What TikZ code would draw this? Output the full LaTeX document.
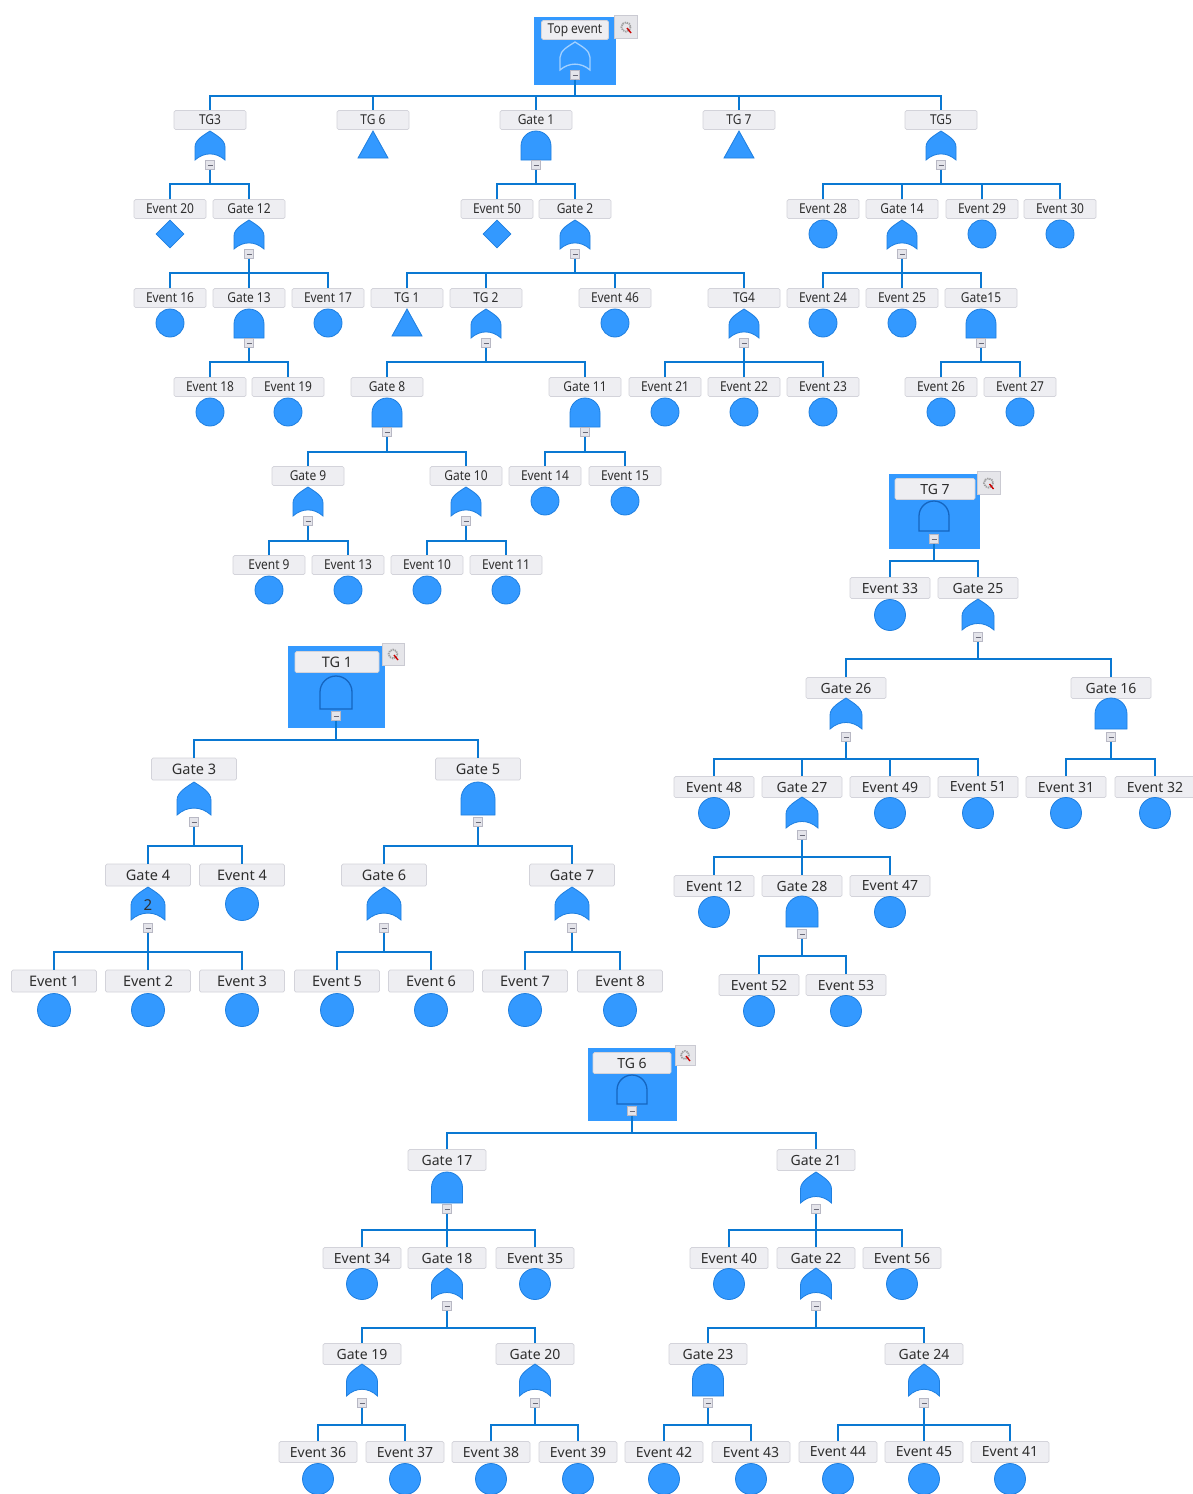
\documentclass[tikz,border=0pt]{standalone}
\usepackage{fontspec}
\setmainfont{Noto Sans}
\newfontfamily\tfont[FakeStretch=0.88]{Noto Sans}
\usetikzlibrary{shapes.geometric}
\definecolor{hl}{HTML}{3399FF}
\definecolor{sho}{HTML}{1F7FDF}
\definecolor{inb}{HTML}{1565C0}
\definecolor{ln}{HTML}{0A78D2}
\definecolor{lf}{HTML}{EEEEF2}
\definecolor{lb}{HTML}{D3D3DA}
\definecolor{mf}{HTML}{E4E4EA}
\definecolor{mb}{HTML}{B8B8C4}
\definecolor{md}{HTML}{6A6A78}
\definecolor{tx}{HTML}{2E2E2E}
\definecolor{icf}{HTML}{E6E6EA}
\definecolor{icb}{HTML}{CACAD2}
\tikzset{
 conn/.style={draw=ln, line width=2.8pt},
 lab/.style={draw=lb, fill=lf, rounded corners=1.5pt, line width=0.7pt, inner sep=0pt, text=tx},
 labT/.style={lab, minimum width=72pt, minimum height=19pt, font=\tfont\fontsize{13.6}{15}\selectfont},
 labA/.style={lab, minimum width=85pt, minimum height=22pt, font=\fontsize{14.5}{16}\selectfont},
 labB/.style={lab, minimum width=80pt, minimum height=21pt, font=\fontsize{14}{16}\selectfont},
 labC/.style={lab, minimum width=78pt, minimum height=21pt, font=\fontsize{14}{16}\selectfont},
 sh/.style={fill=hl, draw=sho, line width=0.8pt},
 shin/.style={fill=hl, draw=inb, line width=1.3pt},
 shtop/.style={fill=hl, draw=white!55!hl, line width=1.3pt},
 evt/.style={circle, sh, inner sep=0pt},
 dia/.style={diamond, sh, inner sep=0pt, minimum width=28pt, minimum height=28pt},
 mn/.style={draw=mb, fill=mf, minimum size=9pt, inner sep=0pt, line width=0.6pt,
   path picture={\draw[md, line width=0.9pt] ([xshift=-2.5pt]path picture bounding box.center) -- ([xshift=2.5pt]path picture bounding box.center);}},
 hlbox/.style={fill=hl, draw=none, inner sep=0pt},
 icon/.style={draw=icb, fill=icf, inner sep=0pt, line width=0.6pt},
}
% AND gate: [style] x ytop w h
\newcommand\AG[5][sh]{\path[#1] ({#2-#4/2},{#3+#5}) -- ({#2-#4/2},{#3+#4/2}) .. controls ({#2-#4/2},{#3+0.224*#4}) and ({#2-0.276*#4},{#3}) .. ({#2},{#3}) .. controls ({#2+0.276*#4},{#3}) and ({#2+#4/2},{#3+0.224*#4}) .. ({#2+#4/2},{#3+#4/2}) -- ({#2+#4/2},{#3+#5}) -- cycle;}
% OR gate
\newcommand\OG[5][sh]{\path[#1] ({#2-#4/2},{#3+#5}) -- ({#2-#4/2},{#3+0.55*#5}) .. controls ({#2-#4/2},{#3+0.3*#5}) and ({#2-0.2*#4},{#3+0.14*#5}) .. ({#2},{#3}) .. controls ({#2+0.2*#4},{#3+0.14*#5}) and ({#2+#4/2},{#3+0.3*#5}) .. ({#2+#4/2},{#3+0.55*#5}) -- ({#2+#4/2},{#3+#5}) .. controls ({#2+0.2*#4},{#3+0.72*#5}) and ({#2-0.2*#4},{#3+0.72*#5}) .. ({#2-#4/2},{#3+#5}) -- cycle;}
% transfer triangle: x ytop w h
\newcommand\TR[4]{\path[sh] (#1,#2) -- ({#1+#3/2},{#2+#4}) -- ({#1-#3/2},{#2+#4}) -- cycle;}
% bus: minus node, x, bus y, children
\newcommand\BUS[4]{\coordinate (#1B) at (#2,#3); \foreach \ch in {#4} {\draw[conn] (#1.south) -- (#1B) -| (\ch.north);}}
% icon: name x y size
\newcommand\ICON[4]{\node[icon, minimum size=#4pt] (#1) at (#2,#3) {};
 \draw[gray!75, line width=1.8pt, dash pattern=on 1.3pt off 0.9pt] (#1.center) circle [radius={0.2*#4}];
 \draw[red!80!black, line width=1.4pt] ([shift={(1pt,-1pt)}]#1.center) -- ([shift={(5pt,-6pt)}]#1.center);}
\begin{document}
\begin{tikzpicture}[x=1pt,y=-1pt]
\fill[white] (0,0) rectangle (1192,1494);
\useasboundingbox (0,0) rectangle (1192,1494);

% ================= TOP TREE =================
\node[hlbox, minimum width=82pt, minimum height=68pt] (topbox) at (575,51) {};
\node[labT, minimum width=67pt] (top) at (575,30) {Top event};
\ICON{topic}{626}{27}{23}
\OG[shtop]{575}{42}{30}{28}
\node[mn] (topm) at (575,75) {};

% level 1
\node[labT] (tg3) at (210,120) {TG3};
\OG{210}{131}{30}{29} \node[mn] (tg3m) at (210,165) {};
\node[labT] (tg6) at (373,120) {TG 6};
\TR{373}{131}{30}{27}
\node[labT] (g1) at (536,120) {Gate 1};
\AG{536}{131}{30}{29} \node[mn] (g1m) at (536,165) {};
\node[labT] (tg7) at (739,120) {TG 7};
\TR{739}{131}{30}{27}
\node[labT] (tg5) at (941,120) {TG5};
\OG{941}{131}{30}{29} \node[mn] (tg5m) at (941,165) {};

% level 2
\node[labT] (e20) at (170,209) {Event 20}; \node[dia] (e20s) at (170,234) {};
\node[labT] (g12) at (249,209) {Gate 12}; \OG{249}{220}{30}{29} \node[mn] (g12m) at (249,254) {};
\node[labT] (e50) at (497,209) {Event 50}; \node[dia] (e50s) at (497,234) {};
\node[labT] (g2) at (575,209) {Gate 2}; \OG{575}{220}{30}{29} \node[mn] (g2m) at (575,254) {};
\node[labT] (e28) at (823,209) {Event 28}; \node[evt, minimum size=28pt] (e28s) at (823,234) {};
\node[labT] (g14) at (902,209) {Gate 14}; \OG{902}{220}{30}{29} \node[mn] (g14m) at (902,254) {};
\node[labT] (e29) at (982,209) {Event 29}; \node[evt, minimum size=28pt] (e29s) at (982,234) {};
\node[labT] (e30) at (1060,209) {Event 30}; \node[evt, minimum size=28pt] (e30s) at (1060,234) {};

% level 3
\node[labT] (e16) at (170,298) {Event 16}; \node[evt, minimum size=28pt] (e16s) at (170,323) {};
\node[labT] (g13) at (249,298) {Gate 13}; \AG{249}{309}{30}{29} \node[mn] (g13m) at (249,343) {};
\node[labT] (e17) at (328,298) {Event 17}; \node[evt, minimum size=28pt] (e17s) at (328,323) {};
\node[labT] (tg1) at (407,298) {TG 1}; \TR{407}{309}{30}{27}
\node[labT] (tg2) at (486,298) {TG 2}; \OG{486}{309}{30}{29} \node[mn] (tg2m) at (486,343) {};
\node[labT] (e46) at (615,298) {Event 46}; \node[evt, minimum size=28pt] (e46s) at (615,323) {};
\node[labT] (tg4) at (744,298) {TG4}; \OG{744}{309}{30}{29} \node[mn] (tg4m) at (744,343) {};
\node[labT] (e24) at (823,298) {Event 24}; \node[evt, minimum size=28pt] (e24s) at (823,323) {};
\node[labT] (e25) at (902,298) {Event 25}; \node[evt, minimum size=28pt] (e25s) at (902,323) {};
\node[labT] (g15) at (981,298) {Gate15}; \AG{981}{309}{30}{29} \node[mn] (g15m) at (981,343) {};

% level 4
\node[labT] (e18) at (210,387) {Event 18}; \node[evt, minimum size=28pt] (e18s) at (210,412) {};
\node[labT] (e19) at (288,387) {Event 19}; \node[evt, minimum size=28pt] (e19s) at (288,412) {};
\node[labT] (g8) at (387,387) {Gate 8}; \AG{387}{398}{30}{29} \node[mn] (g8m) at (387,432) {};
\node[labT] (g11) at (585,387) {Gate 11}; \AG{585}{398}{30}{29} \node[mn] (g11m) at (585,432) {};
\node[labT] (e21) at (665,387) {Event 21}; \node[evt, minimum size=28pt] (e21s) at (665,412) {};
\node[labT] (e22) at (744,387) {Event 22}; \node[evt, minimum size=28pt] (e22s) at (744,412) {};
\node[labT] (e23) at (823,387) {Event 23}; \node[evt, minimum size=28pt] (e23s) at (823,412) {};
\node[labT] (e26) at (941,387) {Event 26}; \node[evt, minimum size=28pt] (e26s) at (941,412) {};
\node[labT] (e27) at (1020,387) {Event 27}; \node[evt, minimum size=28pt] (e27s) at (1020,412) {};

% level 5
\node[labT] (g9) at (308,476) {Gate 9}; \OG{308}{487}{30}{29} \node[mn] (g9m) at (308,521) {};
\node[labT] (g10) at (466,476) {Gate 10}; \OG{466}{487}{30}{29} \node[mn] (g10m) at (466,521) {};
\node[labT] (e14) at (545,476) {Event 14}; \node[evt, minimum size=28pt] (e14s) at (545,501) {};
\node[labT] (e15) at (625,476) {Event 15}; \node[evt, minimum size=28pt] (e15s) at (625,501) {};

% level 6
\node[labT] (e9) at (269,565) {Event 9}; \node[evt, minimum size=28pt] (e9s) at (269,590) {};
\node[labT] (e13) at (348,565) {Event 13}; \node[evt, minimum size=28pt] (e13s) at (348,590) {};
\node[labT] (e10) at (427,565) {Event 10}; \node[evt, minimum size=28pt] (e10s) at (427,590) {};
\node[labT] (e11) at (506,565) {Event 11}; \node[evt, minimum size=28pt] (e11s) at (506,590) {};

\BUS{topm}{575}{96}{tg3,tg6,g1,tg7,tg5}
\BUS{tg3m}{210}{184}{e20,g12}
\BUS{g1m}{536}{184}{e50,g2}
\BUS{tg5m}{941}{184}{e28,g14,e29,e30}
\BUS{g12m}{249}{273}{e16,g13,e17}
\BUS{g2m}{575}{273}{tg1,tg2,e46,tg4}
\BUS{g14m}{902}{273}{e24,e25,g15}
\BUS{g13m}{249}{362}{e18,e19}
\BUS{tg2m}{486}{362}{g8,g11}
\BUS{tg4m}{744}{362}{e21,e22,e23}
\BUS{g15m}{981}{362}{e26,e27}
\BUS{g8m}{387}{452}{g9,g10}
\BUS{g11m}{585}{452}{e14,e15}
\BUS{g9m}{308}{541}{e9,e13}
\BUS{g10m}{466}{541}{e10,e11}

% ================= TG 7 TREE =================
\node[hlbox, minimum width=91pt, minimum height=75pt] (r7box) at (934.5,511.5) {};
\node[labB] (rtg7) at (935,489) {TG 7};
\ICON{r7ic}{988.5}{483}{23}
\AG[shin]{934}{501}{30}{30}
\node[mn] (rtg7m) at (934,539) {};

\node[labB] (e33) at (890,588) {Event 33}; \node[evt, minimum size=31pt] (e33s) at (890,615) {};
\node[labB] (g25) at (978,588) {Gate 25}; \OG{978}{599}{32}{31} \node[mn] (g25m) at (978,637) {};

\node[labB] (g26) at (846,688) {Gate 26}; \OG{846}{698}{32}{31} \node[mn] (g26m) at (846,737) {};
\node[labB] (g16) at (1111,688) {Gate 16}; \AG{1111}{698}{32}{31} \node[mn] (g16m) at (1111,737) {};

\node[labB] (e48) at (714,787) {Event 48}; \node[evt, minimum size=31pt] (e48s) at (714,813) {};
\node[labB] (g27) at (802,787) {Gate 27}; \OG{802}{797}{32}{31} \node[mn] (g27m) at (802,835) {};
\node[labB] (e49) at (890,787) {Event 49}; \node[evt, minimum size=31pt] (e49s) at (890,813) {};
\node[labB] (e51) at (978,787) {Event 51}; \node[evt, minimum size=31pt] (e51s) at (978,813) {};
\node[labB] (e31) at (1066,787) {Event 31}; \node[evt, minimum size=31pt] (e31s) at (1066,813) {};
\node[labB] (e32) at (1155,787) {Event 32}; \node[evt, minimum size=31pt] (e32s) at (1155,813) {};

\node[labB] (e12) at (714,886) {Event 12}; \node[evt, minimum size=31pt] (e12s) at (714,912) {};
\node[labB] (g28) at (802,886) {Gate 28}; \AG{802}{896}{32}{31} \node[mn] (g28m) at (802,934) {};
\node[labB] (e47) at (890,886) {Event 47}; \node[evt, minimum size=31pt] (e47s) at (890,912) {};

\node[labB] (e52) at (759,985) {Event 52}; \node[evt, minimum size=31pt] (e52s) at (759,1011) {};
\node[labB] (e53) at (846,985) {Event 53}; \node[evt, minimum size=31pt] (e53s) at (846,1011) {};

\BUS{rtg7m}{934}{561}{e33,g25}
\BUS{g25m}{978}{659}{g26,g16}
\BUS{g26m}{846}{759}{e48,g27,e49,e51}
\BUS{g16m}{1111}{759}{e31,e32}
\BUS{g27m}{802}{857}{e12,g28,e47}
\BUS{g28m}{802}{956}{e52,e53}

% ================= TG 1 TREE =================
\node[hlbox, minimum width=97pt, minimum height=82pt] (r1box) at (336.5,687) {};
\node[labA, minimum width=84pt, minimum height=21pt] (rtg1) at (337,662) {TG 1};
\ICON{r1ic}{393}{654}{22}
\AG[shin]{336}{676}{32}{33}
\node[mn] (rtg1m) at (336,716) {};

\node[labA] (g3) at (194,769) {Gate 3}; \OG{194}{782}{34}{33} \node[mn] (g3m) at (194,822) {};
\node[labA] (g5) at (478,769) {Gate 5}; \AG{478}{782}{34}{33} \node[mn] (g5m) at (478,822) {};

\node[labA] (g4) at (148,875) {Gate 4}; \OG{148}{887}{34}{33} \node[mn] (g4m) at (148,928) {};
\node[text=tx, font=\fontsize{15}{16}\selectfont, inner sep=0pt] (g4k) at (148,905) {2};
\node[labA] (e4) at (242,875) {Event 4}; \node[evt, minimum size=33pt] (e4s) at (242,904) {};
\node[labA] (g6) at (384,875) {Gate 6}; \OG{384}{887}{34}{33} \node[mn] (g6m) at (384,928) {};
\node[labA] (g7) at (572,875) {Gate 7}; \OG{572}{887}{34}{33} \node[mn] (g7m) at (572,928) {};

\node[labA] (e1) at (54,981) {Event 1}; \node[evt, minimum size=33pt] (e1s) at (54,1010) {};
\node[labA] (e2) at (148,981) {Event 2}; \node[evt, minimum size=33pt] (e2s) at (148,1010) {};
\node[labA] (e3) at (242,981) {Event 3}; \node[evt, minimum size=33pt] (e3s) at (242,1010) {};
\node[labA] (e5) at (337,981) {Event 5}; \node[evt, minimum size=33pt] (e5s) at (337,1010) {};
\node[labA] (e6) at (431,981) {Event 6}; \node[evt, minimum size=33pt] (e6s) at (431,1010) {};
\node[labA] (e7) at (525,981) {Event 7}; \node[evt, minimum size=33pt] (e7s) at (525,1010) {};
\node[labA] (e8) at (620,981) {Event 8}; \node[evt, minimum size=33pt] (e8s) at (620,1010) {};

\BUS{rtg1m}{336}{740}{g3,g5}
\BUS{g3m}{194}{846}{g4,e4}
\BUS{g5m}{478}{846}{g6,g7}
\BUS{g4m}{148}{952}{e1,e2,e3}
\BUS{g6m}{384}{952}{e5,e6}
\BUS{g7m}{572}{952}{e7,e8}

% ================= TG 6 TREE =================
\node[hlbox, minimum width=89pt, minimum height=73pt] (r6box) at (632.5,1084.5) {};
\node[labC] (rtg6) at (632,1063) {TG 6};
\ICON{r6ic}{685}{1055}{20}
\AG[shin]{632}{1075}{30}{29}
\node[mn] (rtg6m) at (632,1111) {};

\node[labC] (g17) at (447,1160) {Gate 17}; \AG{447}{1172}{31}{31} \node[mn] (g17m) at (447,1209) {};
\node[labC] (g21) at (816,1160) {Gate 21}; \OG{816}{1172}{31}{31} \node[mn] (g21m) at (816,1209) {};

\node[labC] (e34) at (362,1258) {Event 34}; \node[evt, minimum size=31pt] (e34s) at (362,1284) {};
\node[labC] (g18) at (447,1258) {Gate 18}; \OG{447}{1268}{31}{31} \node[mn] (g18m) at (447,1306) {};
\node[labC] (e35) at (535,1258) {Event 35}; \node[evt, minimum size=31pt] (e35s) at (535,1284) {};
\node[labC] (e40) at (729,1258) {Event 40}; \node[evt, minimum size=31pt] (e40s) at (729,1284) {};
\node[labC] (g22) at (816,1258) {Gate 22}; \OG{816}{1268}{31}{31} \node[mn] (g22m) at (816,1306) {};
\node[labC] (e56) at (902,1258) {Event 56}; \node[evt, minimum size=31pt] (e56s) at (902,1284) {};

\node[labC] (g19) at (362,1354) {Gate 19}; \OG{362}{1364}{31}{32} \node[mn] (g19m) at (362,1403) {};
\node[labC] (g20) at (535,1354) {Gate 20}; \OG{535}{1364}{31}{32} \node[mn] (g20m) at (535,1403) {};
\node[labC] (g23) at (708,1354) {Gate 23}; \AG{708}{1364}{31}{32} \node[mn] (g23m) at (708,1403) {};
\node[labC] (g24) at (924,1354) {Gate 24}; \OG{924}{1364}{31}{32} \node[mn] (g24m) at (924,1403) {};

\node[labC] (e36) at (318,1452) {Event 36}; \node[evt, minimum size=31pt] (e36s) at (318,1479) {};
\node[labC] (e37) at (405,1452) {Event 37}; \node[evt, minimum size=31pt] (e37s) at (405,1479) {};
\node[labC] (e38) at (491,1452) {Event 38}; \node[evt, minimum size=31pt] (e38s) at (491,1479) {};
\node[labC] (e39) at (578,1452) {Event 39}; \node[evt, minimum size=31pt] (e39s) at (578,1479) {};
\node[labC] (e42) at (664,1452) {Event 42}; \node[evt, minimum size=31pt] (e42s) at (664,1479) {};
\node[labC] (e43) at (751,1452) {Event 43}; \node[evt, minimum size=31pt] (e43s) at (751,1479) {};
\node[labC] (e44) at (838,1452) {Event 44}; \node[evt, minimum size=31pt] (e44s) at (838,1479) {};
\node[labC] (e45) at (924,1452) {Event 45}; \node[evt, minimum size=31pt] (e45s) at (924,1479) {};
\node[labC] (e41) at (1010,1452) {Event 41}; \node[evt, minimum size=31pt] (e41s) at (1010,1479) {};

\BUS{rtg6m}{632}{1133}{g17,g21}
\BUS{g17m}{447}{1230}{e34,g18,e35}
\BUS{g21m}{816}{1230}{e40,g22,e56}
\BUS{g18m}{447}{1328}{g19,g20}
\BUS{g22m}{816}{1328}{g23,g24}
\BUS{g19m}{362}{1425}{e36,e37}
\BUS{g20m}{535}{1425}{e38,e39}
\BUS{g23m}{708}{1425}{e42,e43}
\BUS{g24m}{924}{1425}{e44,e45,e41}
\end{tikzpicture}
\end{document}
